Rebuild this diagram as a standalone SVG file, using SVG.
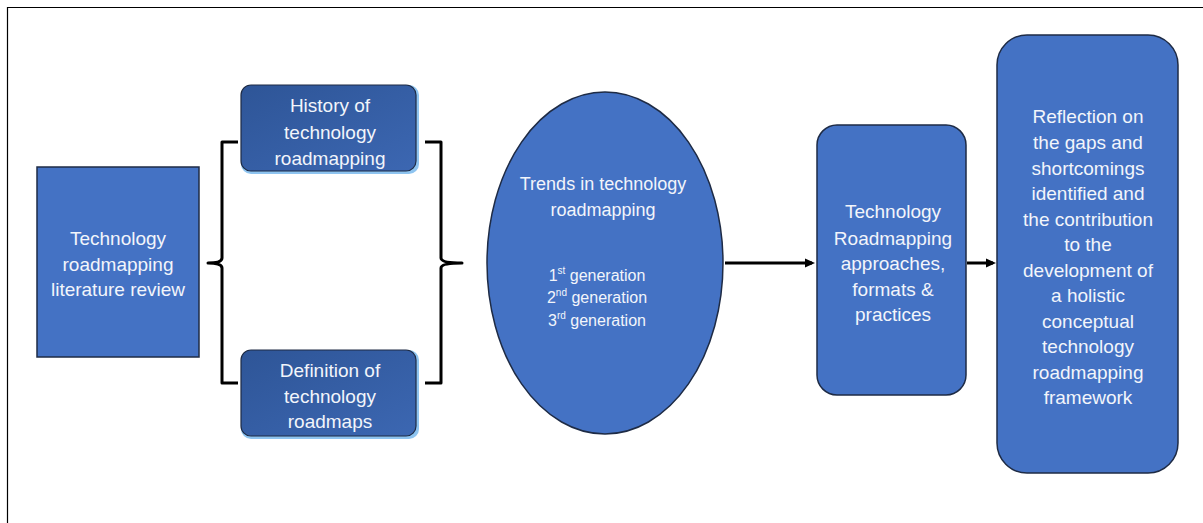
<svg xmlns="http://www.w3.org/2000/svg" width="1203" height="523" viewBox="0 0 1203 523">
<defs>
<style>
.t{font-family:"Liberation Sans",Arial,sans-serif;font-size:19px;fill:#F2F5FB;text-anchor:middle}
.e{font-family:"Liberation Sans",Arial,sans-serif;font-size:18px;fill:#F2F5FB;text-anchor:middle}
.s{font-family:"Liberation Sans",Arial,sans-serif;font-size:16px;fill:#F2F5FB;text-anchor:middle}
.node{fill:#4472C4;stroke:#1E2B45;stroke-width:1.5}
.br{fill:none;stroke:#000;stroke-width:3;stroke-linejoin:round}
.con{fill:none;stroke:#000;stroke-width:3}
</style>
<marker id="ah" markerWidth="10" markerHeight="10" refX="7" refY="5" orient="auto" markerUnits="userSpaceOnUse" viewBox="0 0 10 10">
<path d="M0,0.5 L10,5 L0,9.5 Z" fill="#000"/>
</marker>
<linearGradient id="bevel" x1="0" y1="0" x2="1" y2="1">
<stop offset="0" stop-color="#2E5597"/>
<stop offset="1" stop-color="#3C67B2"/>
</linearGradient>
</defs>
<rect x="0" y="0" width="1203" height="523" fill="#fff"/>
<path d="M7.5,523 L7.5,7.5 L1203,7.5" fill="none" stroke="#000" stroke-width="1.2"/>

<g id="connectors">
<path class="br" d="M238,142 L222,142 L222,258 Q222,263 208,263 Q222,263 222,268 L222,383 L238,383"/>
<path class="br" d="M425,142 L441,142 L441,258 Q441,263 462,263 Q441,263 441,268 L441,383 L425,383"/>
<line class="con" x1="725" y1="263" x2="812" y2="263" marker-end="url(#ah)"/>
<line class="con" x1="967" y1="263" x2="993" y2="263" marker-end="url(#ah)"/>
</g>

<g id="lit-review">
<rect class="node" x="37" y="167" width="162" height="190"/>
<text class="t" x="118" y="245">Technology</text>
<text class="t" x="118" y="271">roadmapping</text>
<text class="t" x="118" y="296">literature review</text>
</g>

<g id="history">
<rect x="241" y="85" width="178" height="89" rx="10" fill="#8EC4F0"/>
<rect x="241" y="85" width="175" height="86" rx="10" fill="url(#bevel)" stroke="#1E2B45" stroke-width="1.2"/>
<text class="t" x="330" y="112">History of</text>
<text class="t" x="330" y="139">technology</text>
<text class="t" x="330" y="165">roadmapping</text>
</g>

<g id="definition">
<rect x="241" y="350" width="178" height="89" rx="10" fill="#8EC4F0"/>
<rect x="241" y="350" width="175" height="86" rx="10" fill="url(#bevel)" stroke="#1E2B45" stroke-width="1.2"/>
<text class="t" x="330" y="377">Definition of</text>
<text class="t" x="330" y="403">technology</text>
<text class="t" x="330" y="428">roadmaps</text>
</g>

<g id="trends">
<ellipse class="node" cx="605" cy="263" rx="118" ry="171"/>
<text class="e" x="603" y="190">Trends in technology</text>
<text class="e" x="603" y="216">roadmapping</text>
<text class="s" x="597" y="281">1<tspan font-size="10" dy="-7">st</tspan><tspan dy="7"> generation</tspan></text>
<text class="s" x="597" y="303">2<tspan font-size="10" dy="-7">nd</tspan><tspan dy="7"> generation</tspan></text>
<text class="s" x="597" y="326">3<tspan font-size="10" dy="-7">rd</tspan><tspan dy="7"> generation</tspan></text>
</g>

<g id="approaches">
<rect class="node" x="817" y="125" width="149" height="270" rx="20"/>
<text class="t" x="893" y="218">Technology</text>
<text class="t" x="893" y="245">Roadmapping</text>
<text class="t" x="893" y="270">approaches,</text>
<text class="t" x="893" y="296">formats &amp;</text>
<text class="t" x="893" y="321">practices</text>
</g>

<g id="reflection">
<rect class="node" x="997" y="35" width="181" height="438" rx="30"/>
<text class="t" x="1088" y="123">Reflection on</text>
<text class="t" x="1088" y="149">the gaps and</text>
<text class="t" x="1088" y="175">shortcomings</text>
<text class="t" x="1088" y="200">identified and</text>
<text class="t" x="1088" y="226">the contribution</text>
<text class="t" x="1088" y="251">to the</text>
<text class="t" x="1088" y="277">development of</text>
<text class="t" x="1088" y="302">a holistic</text>
<text class="t" x="1088" y="328">conceptual</text>
<text class="t" x="1088" y="353">technology</text>
<text class="t" x="1088" y="379">roadmapping</text>
<text class="t" x="1088" y="404">framework</text>
</g>
</svg>
